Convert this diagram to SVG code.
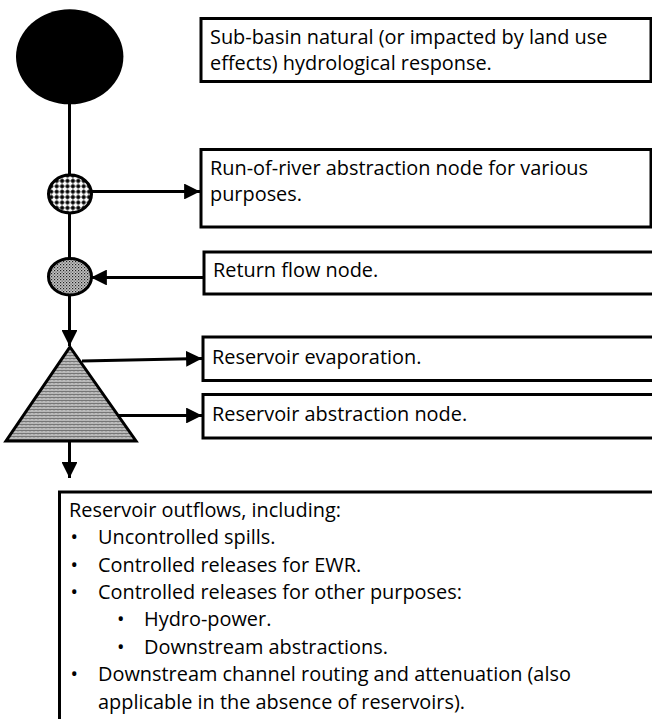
<svg xmlns="http://www.w3.org/2000/svg" width="652" height="719" viewBox="0 0 652 719">
<defs>
<style>
.box{fill:#fff;stroke:#000;stroke-width:3}
.t{font-family:"Open Sans","Noto Sans","Liberation Sans",sans-serif;font-size:19.9px;fill:#000}
.c{fill:none;stroke:#000;stroke-width:3}
.node{stroke:#000;stroke-width:3}
</style>
<marker id="ah" viewBox="0 0 10 10" refX="10" refY="5" markerWidth="5.3" markerHeight="5.3" markerUnits="strokeWidth" orient="auto">
<path d="M0,0 L10,5 L0,10 Z" fill="#000"/>
</marker>
<pattern id="chk" width="5.4" height="5.4" patternUnits="userSpaceOnUse">
<rect width="5.4" height="5.4" fill="#fff"/>
<path d="M2.7,0V5.4M0,2.7H5.4" stroke="#000" stroke-width="0.7"/>
<rect x="1.1" y="1.1" width="3.2" height="3.2" fill="#000"/>
</pattern>
<pattern id="dot" width="3" height="3" patternUnits="userSpaceOnUse">
<rect width="3" height="3" fill="#c4c4c4"/>
<rect x="0" y="0" width="1.2" height="1.2" fill="#222"/>
<rect x="1.5" y="1.5" width="1.2" height="1.2" fill="#555"/>
</pattern>
<pattern id="zig" width="4" height="3" patternUnits="userSpaceOnUse">
<rect width="4" height="3" fill="#e2e2e2"/>
<path d="M0,2.6 L1,0.6 L2,2.6 L3,0.6 L4,2.6" fill="none" stroke="#555" stroke-width="0.8"/>
</pattern>
</defs>

<g id="connectors">
<line class="c" x1="69.5" y1="104" x2="69.5" y2="176"/>
<line class="c" x1="69.5" y1="213" x2="69.5" y2="259"/>
<line class="c" x1="91" y1="191.5" x2="200" y2="191.5" marker-end="url(#ah)"/>
<line class="c" x1="203" y1="277.5" x2="91" y2="277.5" marker-end="url(#ah)"/>
<line class="c" x1="69.5" y1="295" x2="69.5" y2="346" marker-end="url(#ah)"/>
<line class="c" x1="82" y1="361" x2="202" y2="358.5" marker-end="url(#ah)"/>
<line class="c" x1="112" y1="415.5" x2="202" y2="415.5" marker-end="url(#ah)"/>
<line class="c" x1="69.5" y1="441" x2="69.5" y2="478" marker-end="url(#ah)"/>
</g>

<g id="n-subbasin-shape"><ellipse cx="69.7" cy="56.8" rx="53.7" ry="47.5" fill="#000"/></g>
<g id="n-ror-shape"><ellipse class="node" cx="70" cy="194" rx="21.5" ry="19" fill="url(#chk)"/></g>
<g id="n-return-shape"><ellipse class="node" cx="70" cy="276.7" rx="21.5" ry="18.3" fill="url(#dot)"/></g>
<g id="n-reservoir-shape"><path class="node" d="M70,347 L136,441 L6,441 Z" fill="url(#zig)" stroke-linejoin="miter"/></g>

<g id="n-subbasin">
<rect class="box" x="201" y="18.5" width="450" height="63"/>
<text class="t" x="210" y="43.5">Sub-basin natural (or impacted by land use</text>
<text class="t" x="210" y="70">effects) hydrological response.</text>
</g>

<g id="n-ror">
<rect class="box" x="201" y="149.5" width="450" height="77.5"/>
<text class="t" x="210" y="174.5">Run-of-river abstraction node for various</text>
<text class="t" x="210" y="201">purposes.</text>
</g>

<g id="n-return">
<rect class="box" x="204" y="252" width="500" height="42"/>
<text class="t" x="213" y="277">Return flow node.</text>
</g>

<g id="n-evap">
<rect class="box" x="203" y="337" width="500" height="43.5"/>
<text class="t" x="212" y="363.5">Reservoir evaporation.</text>
</g>

<g id="n-abstr">
<rect class="box" x="203" y="394.5" width="500" height="43.5"/>
<text class="t" x="212" y="421">Reservoir abstraction node.</text>
</g>

<g id="n-outflows">
<rect class="box" x="59.5" y="492" width="700" height="300"/>
<text class="t" x="69" y="516.7">Reservoir outflows, including:</text>
<text class="t" y="544.1"><tspan x="70.5">•</tspan><tspan x="98">Uncontrolled spills.</tspan></text>
<text class="t" y="571.5"><tspan x="70.5">•</tspan><tspan x="98">Controlled releases for EWR.</tspan></text>
<text class="t" y="598.9"><tspan x="70.5">•</tspan><tspan x="98">Controlled releases for other purposes:</tspan></text>
<text class="t" y="626.3"><tspan x="117">•</tspan><tspan x="144">Hydro-power.</tspan></text>
<text class="t" y="653.7"><tspan x="117">•</tspan><tspan x="144">Downstream abstractions.</tspan></text>
<text class="t" y="681.1"><tspan x="70.5">•</tspan><tspan x="98">Downstream channel routing and attenuation (also</tspan></text>
<text class="t" x="98" y="708.5">applicable in the absence of reservoirs).</text>
</g>
</svg>
